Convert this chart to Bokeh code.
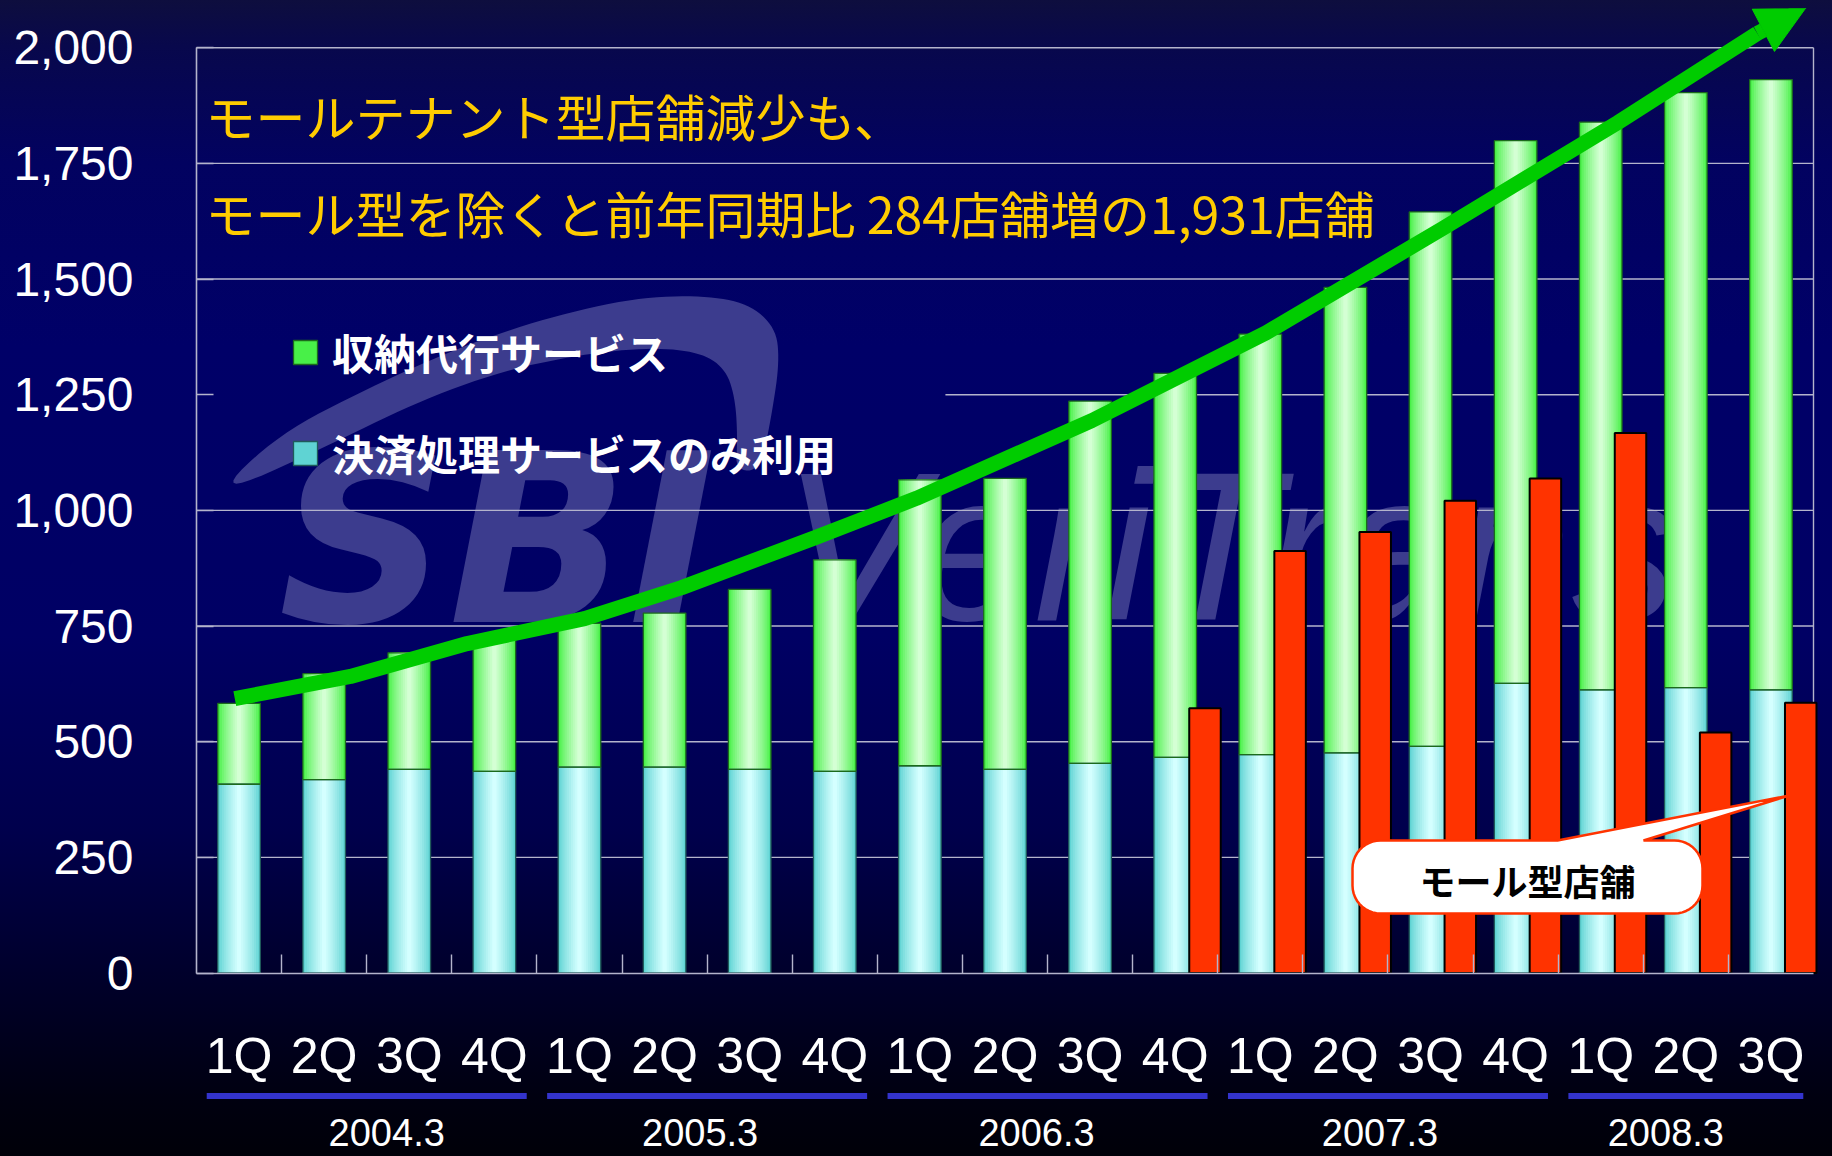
import numpy as np
from bokeh.plotting import figure
from bokeh.models import (Range1d, FixedTicker, NumeralTickFormatter, Legend,
                          LegendItem, Arrow, NormalHead)
from bokeh.core.properties import value
from bokeh.embed import file_html
from bokeh.resources import INLINE

# ---------------- data ----------------
quarters = ["1Q", "2Q", "3Q", "4Q", "1Q", "2Q", "3Q", "4Q", "1Q", "2Q",
            "3Q", "4Q", "1Q", "2Q", "3Q", "4Q", "1Q", "2Q", "3Q"]
fiscal_years = ["2004.3", "2005.3", "2006.3", "2007.3", "2008.3"]
quarters_per_year = [4, 4, 4, 4, 3]
# 決済処理サービスのみ利用 (lower, cyan)
settlement_only = [408, 418, 440, 436, 445, 445, 440, 436, 448, 440,
                   453, 466, 472, 476, 490, 626, 612, 617, 612]
# total stores (top of green 収納代行サービス segment)
total_stores = [583, 647, 692, 720, 756, 778, 829, 893, 1066, 1069,
                1236, 1296, 1381, 1482, 1645, 1799, 1839, 1903, 1931]
# モール型店舗 (red), from 2006.3 4Q onwards
mall_first_quarter = 11
mall_stores = [572, 912, 953, 1021, 1069, 1167, 520, 584]
y_ticks = [0, 250, 500, 750, 1000, 1250, 1500, 1750, 2000]
# growth arrow (quarter position, stores)
trend_x = [0.45, 1.81, 3.18, 4.56, 5.70, 7.27, 8.46, 10.52, 12.57, 14.64, 16.70, 18.34]
trend_y = [593, 641, 712, 766, 833, 941, 1026, 1194, 1384, 1609, 1838, 2031]
trend_tip = (18.91, 2086)

title_lines = ["モールテナント型店舗減少も、",
               "モール型を除くと前年同期比 284店舗増の1,931店舗"]
legend_labels = ["収納代行サービス", "決済処理サービスのみ利用"]
callout_text = "モール型店舗"

# ---------------- layout constants (page pixels) ----------------
W, H = 1816, 1148
X0, PXCAT = 196.0, 85.105        # page x of category 0 boundary, px per category
Y0, PXVAL = 972.5, 0.46265       # page y of value 0, px per store
year_nudge_px = [20, -7, -11, -8, -20]


def dx(px):
    return (np.asarray(px, dtype=float) - X0) / PXCAT


def dy(py):
    return (Y0 - np.asarray(py, dtype=float)) / PXVAL


x_start, x_end = dx(8), dx(8 + W)
y_end, y_start = dy(8), dy(8 + H)

GRID = "#b4b4cc"
FONT_NUM = "Liberation Sans"
FONT_JP = "Noto Sans CJK JP"

p = figure(width=W, height=H, output_backend="svg", toolbar_location=None,
           x_range=Range1d(float(x_start), float(x_end)),
           y_range=Range1d(float(y_start), float(y_end)),
           min_border=0, min_border_left=0, min_border_right=0,
           min_border_top=0, min_border_bottom=0)
p.background_fill_alpha = 0
p.border_fill_alpha = 0
p.outline_line_color = None
p.grid.visible = False

n = len(quarters)
xc = np.arange(n) + 0.5

# ---------------- watermark ----------------
outer = [(212, 497), (279, 433), (369, 387), (458, 347), (547, 317), (636, 297),
         (703, 295), (748, 303), (775, 327), (779, 360), (772, 410), (760, 470)]
inner = [(324, 447), (413, 403), (502, 370), (592, 352), (659, 347), (703, 353),
         (726, 370), (735, 400), (737, 440), (735, 470)]
pts = np.array(outer + inner[::-1], dtype=float)
for _ in range(3):
    q = np.roll(pts, -1, axis=0)
    a = 0.75 * pts + 0.25 * q
    b = 0.25 * pts + 0.75 * q
    inter = np.empty((2 * len(pts), 2))
    inter[0::2] = a
    inter[1::2] = b
    pts = inter
WM = "#3c3c8e"
p.patch(dx(pts[:, 0]), dy(pts[:, 1]), fill_color=WM, line_color=None, level="image")
p.text(x=[float(dx(278))], y=[float(dy(623 - 0.35 * 236))], text=["SBI"],
       text_font=value("DejaVu Sans"), text_font_style="bold italic",
       text_font_size="236px", text_color=WM,
       text_baseline="middle", text_align="left", level="image")
p.text(x=[float(dx(782))], y=[float(dy(620 - 0.35 * 212))], text=["VeriTrans"],
       text_font=value(FONT_NUM), text_font_style="italic", text_font_size="212px",
       text_color=WM, text_baseline="middle", text_align="left", level="image")

# ---------------- grid lines & frame ----------------
gx0, gx1, gy = [], [], []
for t in y_ticks[1:]:
    gx0.append(8.8 if t == 1250 else 0.0)
    gx1.append(float(n))
    gy.append(t)
p.segment(x0=gx0, y0=gy, x1=gx1, y1=gy, line_color=GRID, line_width=1.4, level="underlay")
p.segment(x0=[float(n)], y0=[0], x1=[float(n)], y1=[y_ticks[-1]], line_color=GRID,
          line_width=1.4, level="underlay")

# ---------------- stacked bars with cylinder shading ----------------


def mix(c1, c2, t):
    a = [int(c1[i:i + 2], 16) for i in (1, 3, 5)]
    b = [int(c2[i:i + 2], 16) for i in (1, 3, 5)]
    return "#%02x%02x%02x" % tuple(int(round(a[i] + (b[i] - a[i]) * t)) for i in range(3))


BAR_W = 0.5
N = 10
cyan_layers, green_layers = [], []
for k in range(N):
    frac = 1 - k / N
    t = (k / (N - 1)) ** 0.8
    r = p.vbar(x=xc, width=BAR_W * frac, bottom=0, top=settlement_only,
               fill_color=mix("#5fd3d3", "#d4ffff", t), line_color=None)
    cyan_layers.append(r)
for k in range(N):
    frac = 1 - k / N
    t = (k / (N - 1)) ** 0.8
    r = p.vbar(x=xc, width=BAR_W * frac, bottom=settlement_only, top=total_stores,
               fill_color=mix("#48f048", "#d4ffd4", t), line_color=None)
    green_layers.append(r)
cyan_outline = p.vbar(x=xc, width=BAR_W, bottom=0, top=settlement_only, fill_alpha=0,
                      line_color="#1f5a5a", line_width=1.3)
green_outline = p.vbar(x=xc, width=BAR_W, bottom=settlement_only, top=total_stores,
                       fill_alpha=0, line_color="#1c6a1c", line_width=1.3)

# ---------------- mall-type stores (red) ----------------
mall_x = np.arange(mall_first_quarter, mall_first_quarter + len(mall_stores)) + 0.5 + 0.35
p.vbar(x=mall_x, width=0.37, bottom=0, top=mall_stores, fill_color="#ff3300",
       line_color="black", line_width=2)

# ---------------- growth arrow ----------------
ARROW = "#00cc00"
p.line(trend_x, trend_y, line_width=15, line_color=ARROW, line_join="round", line_cap="butt")
p.add_layout(Arrow(end=NormalHead(size=48, fill_color=ARROW, line_color=ARROW, line_width=1),
                   x_start=trend_x[-1], y_start=trend_y[-1],
                   x_end=trend_tip[0], y_end=trend_tip[1],
                   line_color=ARROW, line_width=15))

# ---------------- callout ----------------
bx0, bx1, by0, by1, rad = 1352, 1702, 840, 913, 28
tail_l, tail_r, tip = 1557, 1643, (1789, 795)


def arc(cx, cy, a0, a1):
    a = np.radians(np.linspace(a0, a1, 12))
    return list(zip(cx + rad * np.cos(a), cy + rad * np.sin(a)))


shape = (arc(bx0 + rad, by0 + rad, 180, 270) + [(tail_l, by0), tip, (tail_r, by0)] +
         arc(bx1 - rad, by0 + rad, 270, 360) + arc(bx1 - rad, by1 - rad, 0, 90) +
         arc(bx0 + rad, by1 - rad, 90, 180))
sh = np.array(shape)
p.patch(dx(sh[:, 0]), dy(sh[:, 1]), fill_color="white", line_color="#ff3300", line_width=2.5)
p.text(x=[float(dx((bx0 + bx1) / 2))], y=[float(dy(879))], text=[callout_text],
       text_font=value(FONT_JP), text_font_style="bold", text_font_size="36px",
       text_color="black", text_align="center", text_baseline="middle")

# ---------------- headline ----------------
p.text(x=[float(dx(205))] * 2, y=[float(dy(114)), float(dy(211))], text=title_lines,
       text_font=value(FONT_JP), text_font_size="50px", text_color="#ffcc00",
       text_align="left", text_baseline="middle")

# ---------------- fiscal year groups ----------------
ends = np.cumsum(quarters_per_year)
starts = ends - np.array(quarters_per_year)
p.segment(x0=starts + 0.12, x1=ends - 0.12, y0=[float(dy(1095.5))] * len(starts),
          y1=[float(dy(1095.5))] * len(starts), line_color="#3333cc", line_width=6)
p.text(x=(starts + ends) / 2.0 + np.array(year_nudge_px) / PXCAT,
       y=[float(dy(1132))] * len(starts), text=fiscal_years,
       text_font=value(FONT_NUM), text_font_size="38px", text_color="white",
       text_align="center", text_baseline="middle")

# ---------------- axes ----------------
xa = p.xaxis[0]
xa.fixed_location = 0
xa.bounds = (0, n)
xa.ticker = FixedTicker(ticks=[float(v) for v in xc], minor_ticks=list(range(1, n)))
xa.major_label_overrides = {float(v): q for v, q in zip(xc, quarters)}
xa.major_tick_in = 0
xa.major_tick_out = 0
xa.minor_tick_in = 19
xa.minor_tick_out = 0
xa.minor_tick_line_color = GRID
xa.minor_tick_line_width = 1.4
xa.axis_line_color = GRID
xa.axis_line_width = 1.6
xa.major_label_text_font = FONT_NUM
xa.major_label_text_font_size = "50px"
xa.major_label_text_color = "white"
xa.major_label_standoff = 55

ya = p.yaxis[0]
ya.fixed_location = 0
ya.bounds = (0, y_ticks[-1])
ya.ticker = FixedTicker(ticks=y_ticks)
ya.formatter = NumeralTickFormatter(format="0,0")
ya.major_tick_in = 17
ya.major_tick_out = 0
ya.major_tick_line_color = GRID
ya.major_tick_line_width = 1.4
ya.minor_tick_line_color = None
ya.axis_line_color = GRID
ya.axis_line_width = 1.6
ya.major_label_text_font = FONT_NUM
ya.major_label_text_font_size = "48px"
ya.major_label_text_color = "white"
ya.major_label_standoff = 63

# ---------------- legend ----------------
legend = Legend(items=[LegendItem(label=legend_labels[0], renderers=[green_layers[0], green_outline]),
                       LegendItem(label=legend_labels[1], renderers=[cyan_layers[0], cyan_outline])],
                location=(282, 673), orientation="vertical",
                label_text_font=FONT_JP, label_text_font_size="42px",
                label_text_font_style="bold", label_text_color="white",
                glyph_width=30, glyph_height=30, label_standoff=12,
                label_height=60, spacing=40, padding=0, margin=0,
                background_fill_alpha=0, border_line_alpha=0)
p.add_layout(legend)

html = file_html(p, INLINE, title="SBI VeriTrans stores")
css = ("<style>html{height:100%;background:linear-gradient(to bottom,#0e0e3e 0%,#08084c 4%,"
       "#020260 14%,#000068 30%,#000064 55%,#00004c 72%,#00002c 84%,#000010 95%,#000008 100%);}"
       "body{margin:8px 8px 0 8px;overflow:hidden;background:transparent;}</style>")
html = html.replace("</head>", css + "</head>", 1)
open("out.html", "w").write(html)
